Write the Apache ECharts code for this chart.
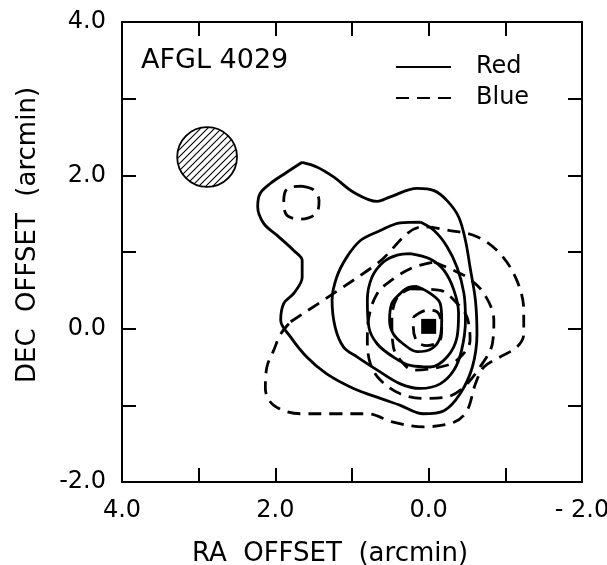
<!DOCTYPE html>
<html>
<head>
<meta charset="utf-8">
<script src="https://cdn.jsdelivr.net/npm/echarts@6.0.0/dist/echarts.min.js"></script>
<style>
  html, body { margin: 0; background: #fff; }
  #chart { width: 607px; height: 565px; }
</style>
</head>
<body>
<div id="chart"></div>
<script>
// contour traces, [RA offset, DEC offset] in arcmin
const redOuter = [[1.65,2.17],[1.46,2.11],[1.24,1.98],[0.98,1.78],[0.67,1.66],[0.5,1.72],[0.15,1.83],[-0.07,1.80],[-0.24,1.67],[-0.39,1.46],[-0.48,1.15],[-0.54,0.80],[-0.61,0.37],[-0.63,-0.07],[-0.57,-0.5],[-0.41,-0.85],[-0.2,-1.07],[0.07,-1.11],[0.37,-1.0],[0.63,-0.91],[0.98,-0.78],[1.33,-0.59],[1.59,-0.37],[1.8,-0.11],[1.93,0.11],[1.89,0.33],[1.76,0.46],[1.65,0.67],[1.65,0.89],[1.76,1.02],[1.98,1.22],[2.15,1.37],[2.23,1.59],[2.2,1.76],[2.07,1.89],[1.85,2.04],[1.65,2.17]];
const red2 = [[0.11,1.39],[-0.07,1.28],[-0.24,1.07],[-0.37,0.8],[-0.46,0.46],[-0.48,0.11],[-0.43,-0.28],[-0.33,-0.54],[-0.15,-0.72],[0.11,-0.78],[0.37,-0.72],[0.67,-0.54],[0.93,-0.37],[1.11,-0.24],[1.22,0.02],[1.26,0.37],[1.2,0.67],[1.07,0.93],[0.89,1.15],[0.63,1.28],[0.37,1.38],[0.11,1.39]];
const red3 = [[0.24,0.98],[-0.02,0.91],[-0.2,0.76],[-0.33,0.5],[-0.39,0.2],[-0.37,-0.11],[-0.24,-0.37],[-0.02,-0.5],[0.24,-0.48],[0.46,-0.37],[0.67,-0.2],[0.78,0.02],[0.8,0.37],[0.74,0.67],[0.59,0.87],[0.41,0.96],[0.24,0.98]];
const red4 = [[0.15,0.55],[-0.02,0.46],[-0.15,0.33],[-0.17,0.11],[-0.15,-0.11],[-0.04,-0.26],[0.15,-0.3],[0.33,-0.2],[0.46,-0.07],[0.51,0.11],[0.48,0.33],[0.37,0.46],[0.26,0.54],[0.15,0.55]];

const blueOuter = [[1.8,0.09],[1.24,0.46],[0.67,0.85],[0.07,1.33],[-0.28,1.28],[-0.63,1.2],[-0.93,0.98],[-1.15,0.63],[-1.24,0.24],[-1.24,-0.07],[-1.15,-0.24],[-0.93,-0.37],[-0.72,-0.5],[-0.61,-0.72],[-0.5,-1.07],[-0.33,-1.22],[0.07,-1.28],[0.46,-1.22],[0.8,-1.11],[1.24,-1.11],[1.67,-1.11],[2.02,-1.0],[2.13,-0.78],[2.11,-0.5],[2.02,-0.28],[1.93,-0.07],[1.8,0.09]];
const blue2 = [[-0.07,0.87],[-0.28,0.78],[-0.5,0.67],[-0.72,0.46],[-0.85,0.11],[-0.83,-0.2],[-0.67,-0.5],[-0.46,-0.76],[-0.24,-0.89],[0.07,-0.91],[0.37,-0.85],[0.63,-0.67],[0.76,-0.46],[0.8,-0.15],[0.78,0.15],[0.67,0.46],[0.46,0.65],[0.2,0.8],[-0.07,0.87]];
const blue3 = [[0.24,0.52],[-0.15,0.5],[-0.37,0.33],[-0.5,0.15],[-0.54,-0.15],[-0.37,-0.41],[-0.15,-0.5],[0.2,-0.54],[0.37,-0.41],[0.46,-0.24],[0.48,0.11],[0.41,0.41],[0.24,0.52]];
const blue4 = [[0.2,0.15],[0.02,0.24],[-0.11,0.22],[-0.17,0.02],[-0.15,-0.15],[0.02,-0.22],[0.15,-0.17],[0.2,0.02],[0.2,0.15]];
const blueKnot = [[1.66,1.86],[1.5,1.81],[1.43,1.67],[1.47,1.5],[1.67,1.43],[1.85,1.48],[1.89,1.67],[1.84,1.83],[1.66,1.86]];

const peakPos = [[0.0, 0.03]];
// beam: RA, DEC, radius (arcmin)
const beam = [[2.89, 2.24, 0.39]];

const xTicks = ['4.0', '2.0', '0.0', '- 2.0'];
const yTicks = ['-2.0', '0.0', '2.0', '4.0'];

const FONT = 'DejaVu Sans';

// diagonal hatch for the beam disc
const hatch = document.createElement('canvas');
hatch.width = 7; hatch.height = 7;
(function () {
  const c = hatch.getContext('2d');
  c.fillStyle = '#fff';
  c.fillRect(0, 0, 7, 7);
  c.strokeStyle = '#000';
  c.lineWidth = 1.1;
  c.beginPath();
  c.moveTo(-1, 8); c.lineTo(8, -1);
  c.moveTo(-1, 1); c.lineTo(1, -1);
  c.moveTo(6, 8); c.lineTo(8, 6);
  c.stroke();
})();

function tickText(list, v) {
  const r = Math.round(v);
  if (r % 2 !== 0) return '';
  const s = r.toFixed(1);
  return list.find(t => t.replace(/\s/g, '') === s) || '';
}

function contour(name, pts, dashed) {
  return {
    type: 'line', name: name, data: pts,
    symbol: 'none', smooth: 0.35, silent: true,
    itemStyle: { color: '#000' },
    lineStyle: { color: '#000', width: 2.8, type: dashed ? [13, 8] : 'solid' }
  };
}

const axisCommon = {
  type: 'value', interval: 1, min: -2, max: 4,
  axisLine: { show: true, onZero: false, lineStyle: { color: '#000', width: 2 } },
  axisTick: { show: true, inside: true, length: 14, lineStyle: { color: '#000', width: 2 } },
  splitLine: { show: false }
};
const labelStyle = { fontFamily: FONT, fontSize: 24, color: '#000' };
const nameStyle = { fontFamily: FONT, fontSize: 26, color: '#000' };

const chart = echarts.init(document.getElementById('chart'));
chart.setOption({
  animation: false,
  backgroundColor: '#fff',
  title: {
    text: 'AFGL 4029', left: 141, top: 47, padding: 0,
    textStyle: { fontFamily: FONT, fontSize: 27, fontWeight: 'normal', color: '#000' }
  },
  legend: {
    data: ['Red', 'Blue'], orient: 'vertical', left: 395, top: 55, padding: 0,
    itemWidth: 55, itemHeight: 24, itemGap: 7,
    itemStyle: { opacity: 0 },
    textStyle: { fontFamily: FONT, fontSize: 24, color: '#000', padding: [0, 0, 0, 20] }
  },
  grid: { left: 122, right: 25, top: 22, bottom: 83, outerBoundsMode: 'none', containLabel: false },
  xAxis: [
    Object.assign({}, axisCommon, {
      inverse: true, position: 'bottom',
      name: 'RA  OFFSET  (arcmin)', nameLocation: 'middle', nameGap: 59,
      nameTextStyle: Object.assign({ padding: [0, 44, 0, 0] }, nameStyle),
      axisLabel: Object.assign({ margin: 17, formatter: v => tickText(xTicks, v) }, labelStyle)
    }),
    Object.assign({}, axisCommon, {
      inverse: true, position: 'top', axisLabel: { show: false }
    })
  ],
  yAxis: [
    Object.assign({}, axisCommon, {
      position: 'left',
      name: 'DEC  OFFSET  (arcmin)', nameLocation: 'middle', nameGap: 81, nameRotate: 90,
      nameTextStyle: Object.assign({ padding: [0, 0, 0, 34] }, nameStyle),
      axisLabel: Object.assign({ margin: 16, formatter: v => tickText(yTicks, v) }, labelStyle)
    }),
    Object.assign({}, axisCommon, {
      position: 'right', axisLabel: { show: false }
    })
  ],
  series: [
    contour('Red', redOuter, false),
    contour('Blue', blueOuter, true),
    contour('Red', red2, false),
    contour('Red', red3, false),
    contour('Red', red4, false),
    contour('Blue', blue2, true),
    contour('Blue', blue3, true),
    contour('Blue', blue4, true),
    contour('Blue', blueKnot, true),
    {
      type: 'scatter', name: 'peak', data: peakPos, symbol: 'rect', symbolSize: 15,
      silent: true, itemStyle: { color: '#000', opacity: 1 }
    },
    {
      type: 'custom', name: 'beam', data: beam, silent: true,
      renderItem: function (params, api) {
        const c = api.coord([api.value(0), api.value(1)]);
        const r = api.size([api.value(2), api.value(2)])[0];
        return {
          type: 'circle',
          shape: { cx: c[0], cy: c[1], r: r },
          style: { fill: { image: hatch, repeat: 'repeat' }, stroke: '#000', lineWidth: 1.8 }
        };
      }
    }
  ]
});
</script>
</body>
</html>
